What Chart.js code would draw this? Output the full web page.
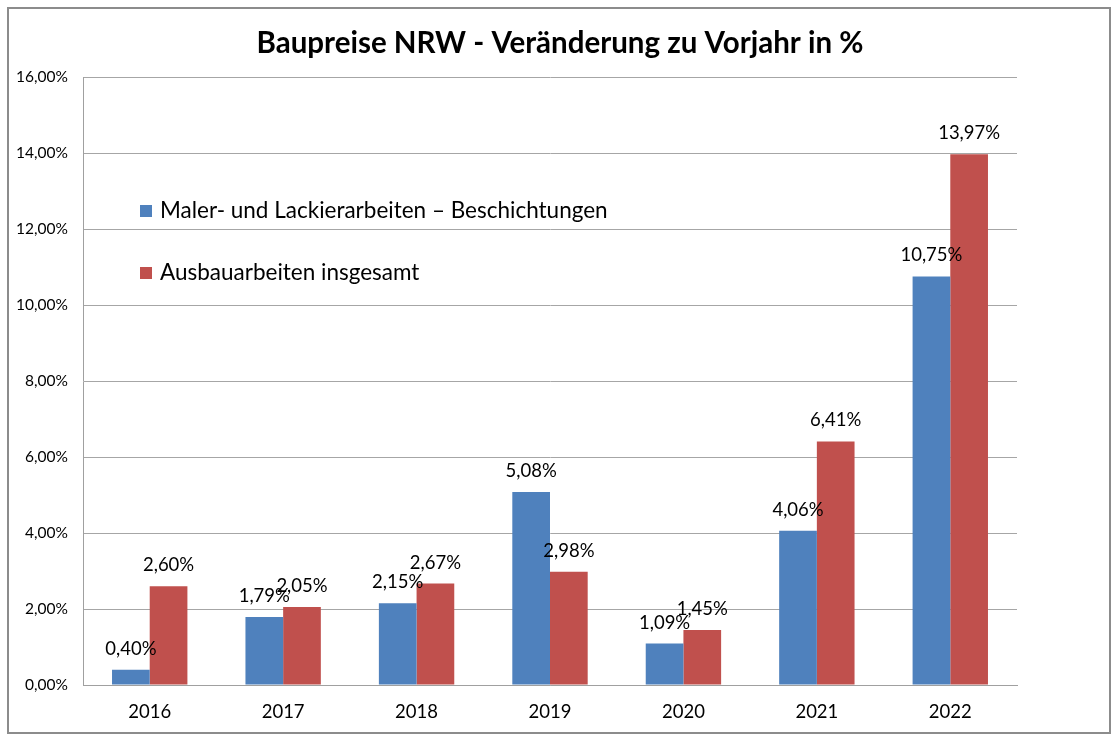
<!DOCTYPE html>
<html><head><meta charset="utf-8">
<script src="https://cdn.jsdelivr.net/npm/chart.js@4"></script>
<style>html,body{margin:0;padding:0;background:#fff}#wrap{width:1114px;height:741px;position:relative}</style>
</head><body><div id="wrap"><canvas id="c" width="1114" height="741"></canvas></div>
<script>
const titleText = 'Baupreise NRW - Veränderung zu Vorjahr in %';
const categories = ['2016','2017','2018','2019','2020','2021','2022'];
const seriesNames = ['Maler- und Lackierarbeiten – Beschichtungen','Ausbauarbeiten insgesamt'];
const malerValues = [0.40, 1.79, 2.15, 5.08, 1.09, 4.06, 10.75];
const ausbauValues = [2.60, 2.05, 2.67, 2.98, 1.45, 6.41, 13.97];
const colors = ['#4F81BD', '#C0504D'];
const FONT = 'Lato, "Open Sans", sans-serif';
const fmt = v => v.toFixed(2).replace('.', ',') + '%';

const decor = {
  id: 'decor',
  beforeDraw(chart) {
    const ctx = chart.ctx;
    ctx.save();
    ctx.fillStyle = '#fff';
    ctx.fillRect(0, 0, chart.width, chart.height);
    ctx.strokeStyle = '#8c8c8c';
    ctx.lineWidth = 2;
    ctx.strokeRect(8, 8, 1102, 725);
    ctx.restore();
  },
  afterDatasetsDraw(chart) {
    const ctx = chart.ctx;
    ctx.save();
    ctx.font = '18.5px ' + FONT;
    ctx.fillStyle = '#000';
    ctx.textAlign = 'center';
    ctx.textBaseline = 'middle';
    chart.data.datasets.forEach((ds, di) => {
      chart.getDatasetMeta(di).data.forEach((bar, i) => {
        ctx.fillText(fmt(ds.data[i]), bar.x, bar.y - 21);
      });
    });
    // title
    ctx.font = 'bold 29.5px ' + FONT;
    ctx.fillText(titleText, 560, 43);
    // legend inside plot
    ctx.textAlign = 'left';
    ctx.font = '22.5px ' + FONT;
    const ly = [211, 273];
    seriesNames.forEach((n, k) => {
      ctx.fillStyle = colors[k];
      ctx.fillRect(140, ly[k] - 6, 12, 12);
      ctx.fillStyle = '#000';
      ctx.fillText(n, 160, ly[k]);
    });
    ctx.restore();
  }
};

new Chart(document.getElementById('c'), {
  type: 'bar',
  data: {
    labels: categories,
    datasets: [
      { label: seriesNames[0], data: malerValues, backgroundColor: colors[0] },
      { label: seriesNames[1], data: ausbauValues, backgroundColor: colors[1] }
    ]
  },
  options: {
    responsive: false,
    animation: false,
    devicePixelRatio: 1,
    layout: { padding: { left: 0, top: 77, right: 97, bottom: 0 } },
    plugins: { legend: { display: false }, title: { display: false }, tooltip: { enabled: false } },
    datasets: { bar: { categoryPercentage: 0.565, barPercentage: 1.0 } },
    scales: {
      x: {
        grid: { display: false, drawTicks: false },
        border: { display: true, color: '#a0a0a0', width: 1 },
        ticks: { color: '#000', font: { family: FONT, size: 18.5 }, padding: 16 },
        afterFit(s) { s.height = 56; }
      },
      y: {
        min: 0, max: 16,
        grid: { color: '#a6a6a6', drawTicks: false },
        border: { display: true, color: '#a0a0a0', width: 1 },
        ticks: { stepSize: 2, color: '#000', font: { family: FONT, size: 15.5 }, padding: 15,
                 callback: v => fmt(v) },
        afterFit(s) { s.width = 83; }
      }
    }
  },
  plugins: [decor]
});
</script></body></html>
